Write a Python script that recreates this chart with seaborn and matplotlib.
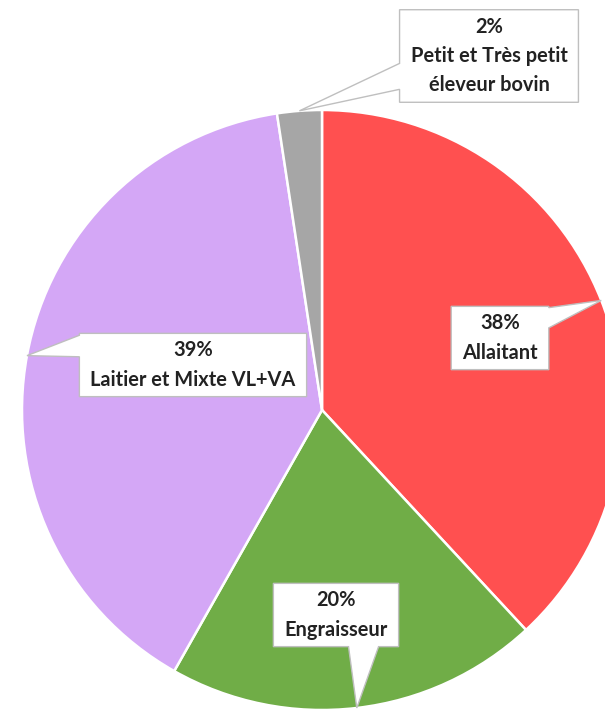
import matplotlib
matplotlib.use("Agg")
import matplotlib.pyplot as plt
import seaborn as sns
import numpy as np
from matplotlib.patches import Polygon

# ---- data ----
categories = ["Allaitant", "Engraisseur", "Laitier et Mixte VL+VA",
              "Petit et Très petit\néleveur bovin"]
shares = [38.1, 20.1, 39.4, 2.4]
colors = ["#FF5050", "#70AD47", "#D4A7F6", "#A6A6A6"]

# ---- layout of callouts (box centre in px relative to pie centre) ----
label_pos = [(178, 72), (14, -205), (-129, 45), (167, 354)]
tip_side = ["right", "bottom", "left", "left"]
tip_span = [(0.02, 0.34), (0.60, 0.84), (0.03, 0.37), (0.58, 0.86)]

sns.set_theme(style="white")
plt.rcParams['font.family'] = ['Lato', 'DejaVu Sans']

W, H = 605, 709
fig = plt.figure(figsize=(W / 100, H / 100), dpi=100)
ax = fig.add_axes([0, 0, 1, 1])
R = 300
cx, cy = 322, 410
wedges, _ = ax.pie(shares, colors=colors, startangle=90, counterclock=False,
                   radius=R, wedgeprops=dict(edgecolor="white", linewidth=1.8))
ax.set_xlim(-cx, W - cx)
ax.set_ylim(-(H - cy), cy)
ax.set_aspect("auto")
ax.axis("off")

texts = []
for cat, v, (lx, ly) in zip(categories, shares, label_pos):
    t = ax.text(lx, ly, f"{round(v):.0f}%\n{cat}", ha="center", va="center",
                fontsize=14.4, fontweight="bold", color="#222222",
                linespacing=1.58, zorder=5)
    texts.append(t)

fig.canvas.draw()
renderer = fig.canvas.get_renderer()
inv = ax.transData.inverted()
padx, pady = 11, 7
for t, w, side, (f1, f2) in zip(texts, wedges, tip_side, tip_span):
    bb = t.get_window_extent(renderer)
    (x0, y0), (x1, y1) = inv.transform([(bb.x0, bb.y0), (bb.x1, bb.y1)])
    x0 -= padx; x1 += padx; y0 -= pady; y1 += pady
    bw, bh = x1 - x0, y1 - y0
    th = np.deg2rad((w.theta1 + w.theta2) / 2)
    tip = (R * np.cos(th), R * np.sin(th))
    TL, TR, BR, BL = (x0, y1), (x1, y1), (x1, y0), (x0, y0)
    if side == "left":
        verts = [TL, TR, BR, BL, (x0, y1 - f2 * bh), tip, (x0, y1 - f1 * bh)]
    elif side == "right":
        verts = [TL, TR, (x1, y1 - f1 * bh), tip, (x1, y1 - f2 * bh), BR, BL]
    elif side == "bottom":
        verts = [TL, TR, BR, (x0 + f2 * bw, y0), tip, (x0 + f1 * bw, y0), BL]
    else:
        verts = [TL, (x0 + f1 * bw, y1), tip, (x0 + f2 * bw, y1), TR, BR, BL]
    ax.add_patch(Polygon(verts, closed=True, facecolor="white",
                         edgecolor="#BFBFBF", linewidth=1.0, zorder=4,
                         clip_on=False))

fig.savefig("out.png", dpi=100, facecolor="white")
